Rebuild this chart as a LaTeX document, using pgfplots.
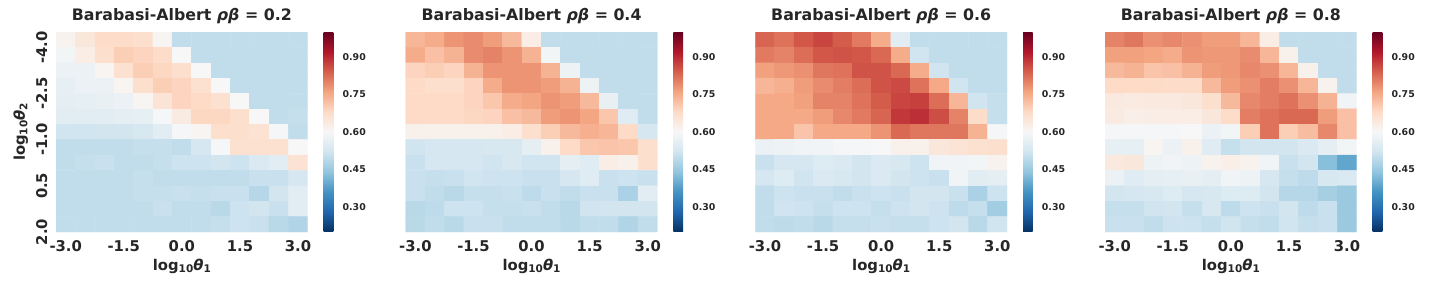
\documentclass[border=0pt]{standalone}
\usepackage{fontspec}
\setmainfont{DejaVu Sans}
\usepackage{pgfplots}
\pgfplotsset{compat=1.18}
\usepackage{pgfplotstable}
\definecolor{txt}{RGB}{38,38,38}
\newcommand\tfont{\bfseries\fontsize{15.8bp}{19bp}\selectfont}
\newcommand\kfont{\bfseries\fontsize{14.8bp}{18bp}\selectfont}
\newcommand\cfont{\bfseries\fontsize{9.4bp}{11bp}\selectfont}
\newcommand\sub[1]{\raisebox{-2.5bp}{\fontsize{10.5bp}{12bp}\selectfont #1}}

% rho*beta = 0.2 (13 rows, top to bottom; 13 values per row, left to right)
\pgfplotstableread[row sep=\\]{
c\\
0.615\\ 0.645\\ 0.675\\ 0.675\\ 0.67\\ 0.61\\ 0.50\\ 0.50\\ 0.50\\ 0.50\\ 0.50\\ 0.50\\ 0.50\\
0.59\\ 0.63\\ 0.67\\ 0.70\\ 0.69\\ 0.675\\ 0.60\\ 0.50\\ 0.50\\ 0.50\\ 0.50\\ 0.50\\ 0.50\\
0.575\\ 0.575\\ 0.61\\ 0.665\\ 0.70\\ 0.685\\ 0.67\\ 0.60\\ 0.50\\ 0.50\\ 0.50\\ 0.50\\ 0.50\\
0.565\\ 0.575\\ 0.575\\ 0.61\\ 0.67\\ 0.70\\ 0.69\\ 0.665\\ 0.60\\ 0.50\\ 0.50\\ 0.50\\ 0.50\\
0.56\\ 0.565\\ 0.57\\ 0.575\\ 0.61\\ 0.655\\ 0.69\\ 0.68\\ 0.665\\ 0.60\\ 0.50\\ 0.50\\ 0.50\\
0.555\\ 0.555\\ 0.555\\ 0.56\\ 0.565\\ 0.595\\ 0.635\\ 0.685\\ 0.685\\ 0.67\\ 0.60\\ 0.50\\ 0.505\\
0.52\\ 0.52\\ 0.525\\ 0.525\\ 0.535\\ 0.555\\ 0.595\\ 0.61\\ 0.67\\ 0.67\\ 0.66\\ 0.595\\ 0.50\\
0.50\\ 0.50\\ 0.50\\ 0.50\\ 0.505\\ 0.505\\ 0.50\\ 0.53\\ 0.595\\ 0.665\\ 0.665\\ 0.665\\ 0.60\\
0.50\\ 0.505\\ 0.51\\ 0.50\\ 0.50\\ 0.505\\ 0.515\\ 0.515\\ 0.525\\ 0.515\\ 0.54\\ 0.555\\ 0.66\\
0.50\\ 0.50\\ 0.50\\ 0.50\\ 0.505\\ 0.50\\ 0.50\\ 0.50\\ 0.50\\ 0.50\\ 0.51\\ 0.51\\ 0.53\\
0.50\\ 0.50\\ 0.50\\ 0.50\\ 0.505\\ 0.505\\ 0.51\\ 0.505\\ 0.51\\ 0.51\\ 0.485\\ 0.525\\ 0.555\\
0.50\\ 0.50\\ 0.50\\ 0.50\\ 0.50\\ 0.51\\ 0.50\\ 0.50\\ 0.49\\ 0.515\\ 0.525\\ 0.51\\ 0.555\\
0.50\\ 0.50\\ 0.50\\ 0.50\\ 0.50\\ 0.50\\ 0.50\\ 0.50\\ 0.505\\ 0.515\\ 0.51\\ 0.49\\ 0.48\\
}\dataA

% rho*beta = 0.4
\pgfplotstableread[row sep=\\]{
c\\
0.735\\ 0.75\\ 0.78\\ 0.79\\ 0.77\\ 0.73\\ 0.63\\ 0.50\\ 0.50\\ 0.50\\ 0.50\\ 0.50\\ 0.50\\
0.75\\ 0.72\\ 0.74\\ 0.79\\ 0.80\\ 0.78\\ 0.74\\ 0.59\\ 0.50\\ 0.50\\ 0.50\\ 0.50\\ 0.50\\
0.69\\ 0.70\\ 0.69\\ 0.74\\ 0.78\\ 0.78\\ 0.78\\ 0.74\\ 0.58\\ 0.50\\ 0.50\\ 0.50\\ 0.50\\
0.68\\ 0.67\\ 0.67\\ 0.69\\ 0.75\\ 0.78\\ 0.78\\ 0.77\\ 0.74\\ 0.58\\ 0.50\\ 0.50\\ 0.50\\
0.68\\ 0.68\\ 0.68\\ 0.69\\ 0.71\\ 0.75\\ 0.76\\ 0.78\\ 0.77\\ 0.73\\ 0.57\\ 0.50\\ 0.50\\
0.68\\ 0.68\\ 0.68\\ 0.685\\ 0.69\\ 0.72\\ 0.73\\ 0.77\\ 0.78\\ 0.76\\ 0.71\\ 0.55\\ 0.50\\
0.62\\ 0.62\\ 0.62\\ 0.62\\ 0.62\\ 0.63\\ 0.67\\ 0.70\\ 0.73\\ 0.745\\ 0.735\\ 0.68\\ 0.53\\
0.52\\ 0.53\\ 0.53\\ 0.53\\ 0.535\\ 0.535\\ 0.56\\ 0.62\\ 0.68\\ 0.71\\ 0.715\\ 0.71\\ 0.67\\
0.51\\ 0.53\\ 0.53\\ 0.53\\ 0.52\\ 0.535\\ 0.52\\ 0.52\\ 0.56\\ 0.55\\ 0.63\\ 0.62\\ 0.67\\
0.51\\ 0.505\\ 0.51\\ 0.52\\ 0.515\\ 0.515\\ 0.51\\ 0.51\\ 0.53\\ 0.55\\ 0.51\\ 0.515\\ 0.51\\
0.51\\ 0.50\\ 0.49\\ 0.505\\ 0.505\\ 0.51\\ 0.495\\ 0.51\\ 0.50\\ 0.51\\ 0.51\\ 0.47\\ 0.555\\
0.49\\ 0.495\\ 0.515\\ 0.515\\ 0.505\\ 0.505\\ 0.51\\ 0.50\\ 0.49\\ 0.52\\ 0.525\\ 0.525\\ 0.525\\
0.49\\ 0.50\\ 0.49\\ 0.51\\ 0.51\\ 0.50\\ 0.50\\ 0.50\\ 0.49\\ 0.50\\ 0.50\\ 0.48\\ 0.50\\
}\dataB

% rho*beta = 0.6
\pgfplotstableread[row sep=\\]{
c\\
0.835\\ 0.82\\ 0.85\\ 0.87\\ 0.845\\ 0.81\\ 0.75\\ 0.555\\ 0.50\\ 0.50\\ 0.50\\ 0.50\\ 0.50\\
0.81\\ 0.80\\ 0.825\\ 0.85\\ 0.855\\ 0.85\\ 0.83\\ 0.75\\ 0.52\\ 0.50\\ 0.50\\ 0.50\\ 0.50\\
0.765\\ 0.775\\ 0.785\\ 0.815\\ 0.82\\ 0.855\\ 0.855\\ 0.83\\ 0.75\\ 0.52\\ 0.50\\ 0.50\\ 0.50\\
0.735\\ 0.745\\ 0.77\\ 0.79\\ 0.805\\ 0.825\\ 0.855\\ 0.865\\ 0.82\\ 0.755\\ 0.52\\ 0.50\\ 0.50\\
0.755\\ 0.755\\ 0.765\\ 0.80\\ 0.80\\ 0.82\\ 0.845\\ 0.87\\ 0.875\\ 0.825\\ 0.735\\ 0.52\\ 0.505\\
0.755\\ 0.755\\ 0.755\\ 0.77\\ 0.795\\ 0.81\\ 0.835\\ 0.885\\ 0.895\\ 0.86\\ 0.80\\ 0.675\\ 0.505\\
0.755\\ 0.755\\ 0.715\\ 0.755\\ 0.755\\ 0.755\\ 0.78\\ 0.83\\ 0.815\\ 0.815\\ 0.815\\ 0.74\\ 0.595\\
0.575\\ 0.58\\ 0.585\\ 0.585\\ 0.595\\ 0.595\\ 0.60\\ 0.62\\ 0.62\\ 0.645\\ 0.655\\ 0.665\\ 0.67\\
0.51\\ 0.53\\ 0.53\\ 0.545\\ 0.54\\ 0.525\\ 0.54\\ 0.535\\ 0.515\\ 0.585\\ 0.585\\ 0.59\\ 0.615\\
0.53\\ 0.545\\ 0.52\\ 0.54\\ 0.535\\ 0.525\\ 0.54\\ 0.525\\ 0.515\\ 0.51\\ 0.585\\ 0.555\\ 0.56\\
0.50\\ 0.515\\ 0.51\\ 0.51\\ 0.50\\ 0.51\\ 0.515\\ 0.51\\ 0.525\\ 0.525\\ 0.51\\ 0.47\\ 0.515\\
0.50\\ 0.52\\ 0.515\\ 0.505\\ 0.515\\ 0.515\\ 0.505\\ 0.515\\ 0.525\\ 0.515\\ 0.495\\ 0.505\\ 0.46\\
0.50\\ 0.495\\ 0.50\\ 0.49\\ 0.505\\ 0.505\\ 0.51\\ 0.505\\ 0.505\\ 0.515\\ 0.525\\ 0.49\\ 0.52\\
}\dataC

% rho*beta = 0.8
\pgfplotstableread[row sep=\\]{
c\\
0.80\\ 0.815\\ 0.785\\ 0.795\\ 0.785\\ 0.77\\ 0.77\\ 0.735\\ 0.63\\ 0.50\\ 0.50\\ 0.50\\ 0.50\\
0.765\\ 0.765\\ 0.76\\ 0.75\\ 0.78\\ 0.775\\ 0.775\\ 0.79\\ 0.735\\ 0.62\\ 0.50\\ 0.50\\ 0.50\\
0.73\\ 0.74\\ 0.715\\ 0.72\\ 0.74\\ 0.77\\ 0.775\\ 0.795\\ 0.785\\ 0.735\\ 0.62\\ 0.50\\ 0.50\\
0.68\\ 0.68\\ 0.68\\ 0.675\\ 0.675\\ 0.73\\ 0.77\\ 0.785\\ 0.805\\ 0.785\\ 0.735\\ 0.615\\ 0.50\\
0.64\\ 0.635\\ 0.64\\ 0.64\\ 0.645\\ 0.67\\ 0.73\\ 0.795\\ 0.805\\ 0.82\\ 0.785\\ 0.74\\ 0.585\\
0.635\\ 0.625\\ 0.63\\ 0.63\\ 0.63\\ 0.645\\ 0.675\\ 0.805\\ 0.82\\ 0.83\\ 0.83\\ 0.77\\ 0.72\\
0.595\\ 0.595\\ 0.595\\ 0.595\\ 0.60\\ 0.575\\ 0.59\\ 0.70\\ 0.82\\ 0.70\\ 0.725\\ 0.795\\ 0.72\\
0.565\\ 0.565\\ 0.61\\ 0.575\\ 0.62\\ 0.55\\ 0.505\\ 0.525\\ 0.525\\ 0.525\\ 0.54\\ 0.56\\ 0.59\\
0.64\\ 0.645\\ 0.58\\ 0.585\\ 0.58\\ 0.615\\ 0.625\\ 0.615\\ 0.585\\ 0.51\\ 0.525\\ 0.43\\ 0.39\\
0.575\\ 0.55\\ 0.56\\ 0.565\\ 0.57\\ 0.56\\ 0.585\\ 0.58\\ 0.53\\ 0.505\\ 0.495\\ 0.535\\ 0.54\\
0.525\\ 0.53\\ 0.535\\ 0.545\\ 0.53\\ 0.535\\ 0.545\\ 0.545\\ 0.525\\ 0.485\\ 0.485\\ 0.465\\ 0.45\\
0.505\\ 0.505\\ 0.52\\ 0.525\\ 0.505\\ 0.535\\ 0.495\\ 0.515\\ 0.51\\ 0.525\\ 0.495\\ 0.51\\ 0.45\\
0.51\\ 0.51\\ 0.50\\ 0.515\\ 0.515\\ 0.505\\ 0.52\\ 0.505\\ 0.50\\ 0.52\\ 0.505\\ 0.51\\ 0.45\\
}\dataD

\pgfplotsset{
  colormap={rdbur}{rgb255=(5,48,97) rgb255=(33,102,172) rgb255=(67,147,195) rgb255=(146,197,222) rgb255=(209,229,240) rgb255=(247,247,247) rgb255=(253,219,199) rgb255=(244,165,130) rgb255=(214,96,77) rgb255=(178,24,43) rgb255=(103,0,31)},
  hm/.style={
    scale only axis, width=251.7bp, height=200bp,
    anchor=south west,
    xmin=-0.5, xmax=12.5, ymin=-0.5, ymax=12.5, y dir=reverse,
    axis line style={draw=none}, major tick length=0pt,
    xtick={0,3,6,9,12}, xticklabels={-3.0,-1.5,0.0,1.5,3.0},
    xticklabel style={font=\kfont, text=txt, anchor=base, yshift=-19bp, inner sep=0pt},
    ytick=\empty,
    xlabel={log\sub{10}\textit{θ}\sub{1}},
    xlabel style={at={(axis description cs:0.5,0)}, anchor=base, yshift=-38bp, font=\kfont, text=txt, inner sep=0pt},
    title style={at={(axis description cs:0.5,1)}, anchor=base, yshift=6bp, font=\tfont, text=txt, inner sep=0pt},
    colormap name=rdbur,
    point meta min=0.2, point meta max=1.0,
    colorbar,
    colorbar style={at={(parent axis.north east)}, anchor=north west, xshift=7.5bp,
      scale only axis, width=9.7bp, height=200bp,
      axis line style={draw=none}, major tick length=0pt,
      ytick={0.3,0.45,0.6,0.75,0.9}, yticklabels={0.30,0.45,0.60,0.75,0.90},
      yticklabel style={font=\cfont, text=txt, anchor=west, inner sep=0pt, xshift=9bp}},
  },
  hmplot/.style={matrix plot*, mesh/cols=13, mesh/rows=13, point meta=explicit},
}

\begin{document}
\begin{tikzpicture}
\useasboundingbox (0,0) rectangle (1440bp,288bp);

\begin{axis}[hm, at={(56bp,56bp)},
  title={Barabasi-Albert \textit{ρβ} = 0.2},
  ytick={0.5,3.5,6.5,9.5,12.5}, yticklabels={-4.0,-2.5,-1.0,0.5,2.0},
  yticklabel style={font=\kfont, text=txt, rotate=90, anchor=base, inner sep=0pt, yshift=9bp},
  ylabel={log\sub{10}\textit{θ}\sub{2}},
  ylabel style={at={(axis description cs:0,0.5)}, anchor=base, yshift=31bp, font=\kfont, text=txt, inner sep=0pt}]
\addplot[hmplot] table[x index=0, y index=0, x expr={mod(\coordindex,13)}, y expr={floor((\coordindex+0.5)/13)}, meta index=0] {\dataA};
\end{axis}

\begin{axis}[hm, at={(405.7bp,56bp)}, title={Barabasi-Albert \textit{ρβ} = 0.4}]
\addplot[hmplot] table[x index=0, y index=0, x expr={mod(\coordindex,13)}, y expr={floor((\coordindex+0.5)/13)}, meta index=0] {\dataB};
\end{axis}

\begin{axis}[hm, at={(755.3bp,56bp)}, title={Barabasi-Albert \textit{ρβ} = 0.6}]
\addplot[hmplot] table[x index=0, y index=0, x expr={mod(\coordindex,13)}, y expr={floor((\coordindex+0.5)/13)}, meta index=0] {\dataC};
\end{axis}

\begin{axis}[hm, at={(1105bp,56bp)}, title={Barabasi-Albert \textit{ρβ} = 0.8}]
\addplot[hmplot] table[x index=0, y index=0, x expr={mod(\coordindex,13)}, y expr={floor((\coordindex+0.5)/13)}, meta index=0] {\dataD};
\end{axis}
\end{tikzpicture}
\end{document}
